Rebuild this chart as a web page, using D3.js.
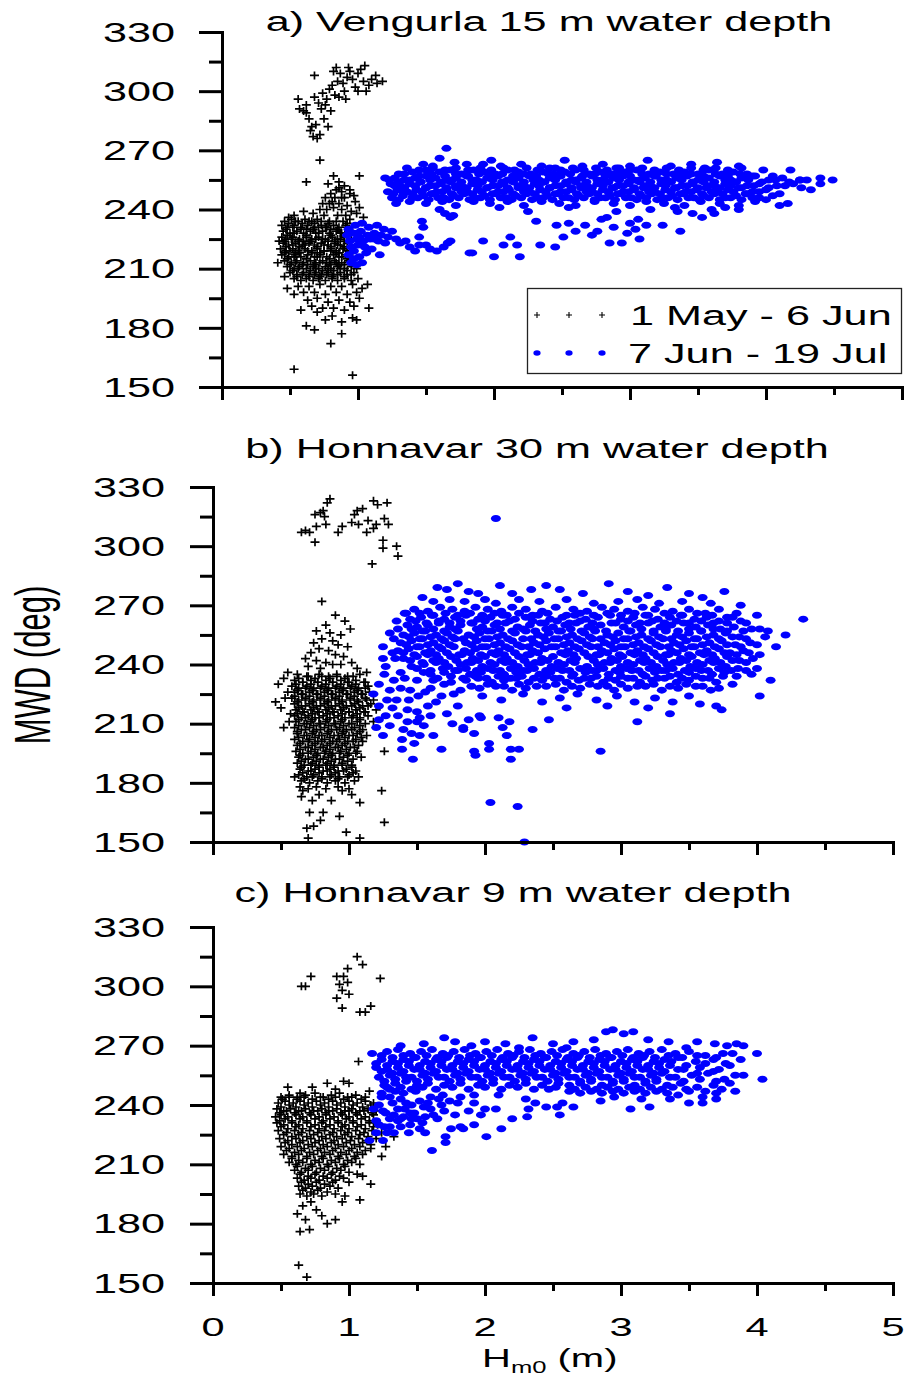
<!DOCTYPE html>
<html>
<head>
<meta charset="utf-8">
<script src="https://cdn.jsdelivr.net/npm/d3@7"></script>
<style>
  body { margin: 0; background: #fff; }
  svg { display: block; }
</style>
</head>
<body>
<svg id="chart" width="907" height="1380"></svg>
<script>
// ---- tick values and labels ----
const yTickValues = [150, 180, 210, 240, 270, 300, 330];
const yMinorTicks = [165, 195, 225, 255, 285, 315];
const xTickValues = [0, 1, 2, 3, 4, 5];
const xMinorTicks = [0.5, 1.5, 2.5, 3.5, 4.5];
const panelTitles = [
  "a) Vengurla 15 m water depth",
  "b) Honnavar 30 m water depth",
  "c) Honnavar 9 m water depth"
];
const seriesLabels = ["1 May - 6 Jun", "7 Jun - 19 Jul"];
const yAxisTitle = "MWD (deg)";

// ---- observations: flat lists of Hm0 (m), MWD (deg) pairs ----
// a) Vengurla, 1 May - 6 Jun
const vengurlaEarly = [
  0.56,296, 0.57,291, 0.6,290, 0.62,289, 0.64,286, 0.66,282, 0.65,280, 0.67,277, 0.69,283, 0.7,276,
  0.72,278, 0.75,286, 0.78,282, 0.73,291, 0.71,294, 0.68,297, 0.74,299, 0.77,296, 0.79,301, 0.81,303,
  0.83,298, 0.85,305, 0.87,309, 0.89,304, 0.9,300, 0.92,307, 0.94,310, 0.96,306, 0.98,302, 1.0,309,
  1.02,311, 1.04,305, 1.06,300, 1.08,303, 1.1,306, 1.13,308, 1.14,304, 1.05,313, 0.68,308, 0.82,310,
  0.86,297, 0.76,293, 0.8,290, 0.91,296, 1.0,300, 0.84,312, 0.93,312, 1.18,305, 0.62,293, 0.72,265,
  0.62,254,
  0.82,257, 1.01,257, 0.78,253, 0.86,254, 0.9,252, 0.84,250, 0.8,248, 0.88,249, 0.94,250, 0.76,246,
  0.83,246, 0.9,246, 0.97,247, 0.74,243, 0.79,243, 0.86,243, 0.92,242, 0.98,244, 0.72,240, 0.77,240,
  0.82,241, 0.88,240, 0.95,239, 1.01,241, 0.67,238, 0.75,237, 0.85,237, 0.91,237, 0.99,238, 0.6,239,
  0.53,237, 0.49,236, 1.04,236, 0.81,244, 0.88,246, 0.94,248, 0.86,251,
  0.46,234, 0.51,235, 0.56,234, 0.61,235, 0.66,234, 0.7,235, 0.79,234, 0.89,234, 0.94,235,
  0.44,232, 0.48,231, 0.53,232, 0.58,231, 0.63,232, 0.68,231, 0.73,232, 0.77,231, 0.82,232, 0.86,231, 0.91,232, 0.96,231,
  0.45,229, 0.5,228, 0.55,229, 0.6,228, 0.65,229, 0.69,228, 0.74,229, 0.79,228, 0.84,229, 0.88,228, 0.93,229,
  0.44,226, 0.47,225, 0.52,226, 0.57,225, 0.62,226, 0.66,225, 0.71,226, 0.76,225, 0.81,226, 0.85,225, 0.9,226, 0.95,225,
  0.45,223, 0.49,222, 0.54,223, 0.59,222, 0.64,223, 0.68,222, 0.73,223, 0.78,222, 0.83,223, 0.87,222, 0.92,223,
  0.43,220, 0.47,219, 0.52,220, 0.56,219, 0.61,220, 0.66,219, 0.7,220, 0.75,219, 0.8,220, 0.84,219, 0.89,220, 0.94,219,
  0.44,217, 0.49,216, 0.54,217, 0.58,216, 0.63,217, 0.68,216, 0.72,217, 0.77,216, 0.82,217, 0.86,216, 0.91,217, 0.96,216,
  0.46,214, 0.51,213, 0.55,214, 0.6,213, 0.65,214, 0.69,213, 0.74,214, 0.79,213, 0.83,214, 0.88,213, 0.93,214,
  0.48,211, 0.53,210, 0.57,211, 0.62,210, 0.67,211, 0.71,210, 0.76,211, 0.8,210, 0.85,211, 0.9,210, 0.95,211, 0.99,210,
  0.5,208, 0.55,207, 0.6,208, 0.64,207, 0.69,208, 0.73,207, 0.78,208, 0.82,207, 0.87,208, 0.92,207, 0.97,208,
  0.53,205, 0.58,204, 0.62,205, 0.67,204, 0.71,205, 0.76,204, 0.81,205, 0.85,204, 0.9,205, 0.95,204, 1.0,205,
  0.58,230, 0.67,230, 0.76,231, 0.85,230, 0.56,224, 0.65,224, 0.74,225, 0.83,224,
  0.57,218, 0.66,218, 0.75,219, 0.84,218, 0.59,212, 0.68,212, 0.77,213, 0.86,212,
  0.49,233, 0.54,234, 0.59,233, 0.64,234, 0.68,233, 0.73,234, 0.78,233, 0.84,234, 0.92,233,
  0.47,230, 0.52,231, 0.62,230, 0.71,231, 0.8,230, 0.91,231,
  0.48,227, 0.53,228, 0.62,227, 0.71,228, 0.8,227, 0.87,228, 0.92,227,
  0.46,224, 0.51,225, 0.6,224, 0.69,225, 0.78,224, 0.87,225, 0.9,224,
  0.47,221, 0.52,222, 0.57,221, 0.61,222, 0.7,221, 0.75,222, 0.8,221, 0.85,222, 0.9,221,
  0.46,218, 0.5,219, 0.54,218, 0.63,219, 0.72,218, 0.8,219, 0.86,218, 0.92,219,
  0.48,215, 0.53,216, 0.62,215, 0.7,216, 0.79,215, 0.88,216, 0.92,215,
  0.5,212, 0.54,213, 0.63,212, 0.72,213, 0.8,212, 0.84,213, 0.9,212, 0.95,213,
  0.52,209, 0.56,210, 0.65,209, 0.69,210, 0.74,209, 0.78,210, 0.82,209, 0.87,210, 0.92,209,
  0.55,206, 0.59,207, 0.64,206, 0.68,207, 0.72,206, 0.77,207, 0.81,206, 0.85,207, 0.9,206, 0.95,207,
  0.48,200, 0.56,201, 0.64,201, 0.72,202, 0.8,201, 0.88,201, 0.96,202, 1.07,202, 1.03,200, 0.53,197,
  0.6,198, 0.68,198, 0.76,197, 0.84,198, 0.92,197, 0.99,198, 0.63,194, 0.7,195, 0.78,193, 0.86,194,
  0.94,193, 1.01,195, 0.58,189, 0.66,191, 0.74,190, 0.82,190, 0.9,189, 0.97,191, 0.7,188, 0.81,186,
  0.96,185, 0.76,184, 0.88,183, 0.68,179, 0.88,177, 0.8,172, 0.53,159, 0.96,156, 0.99,184, 0.62,181,
  1.08,190, 0.46,206, 0.42,224, 0.41,213
];

// a) Vengurla, 7 Jun - 19 Jul
const vengurlaLate = [
  0.93,230, 0.98,232, 1.03,233, 1.08,231, 1.14,232, 1.19,230, 0.92,227, 0.97,228, 1.02,229, 1.07,227,
  1.12,228, 1.17,227, 1.22,226, 0.94,224, 0.99,225, 1.04,224, 1.09,225, 1.15,224, 1.2,223, 0.95,221,
  1.0,222, 1.05,221, 1.1,220, 0.93,217, 0.97,215, 1.01,216, 0.95,213, 0.99,212, 1.03,213, 1.16,217,
  1.25,229, 1.28,225, 1.31,223, 1.35,224, 1.38,221, 1.42,219, 1.45,222, 1.5,222, 1.53,220, 1.58,219,
  1.63,221, 1.66,223, 1.45,226, 1.48,231, 1.47,234, 1.64,238, 1.68,236, 1.7,237, 1.82,218, 1.92,224,
  1.84,218, 2.0,216, 2.07,222, 2.12,226, 2.17,222, 2.19,216, 2.31,234, 2.34,222, 2.45,221, 2.46,232,
  2.51,226, 2.67,232, 2.72,227, 2.76,229, 2.79,235, 2.83,236, 2.85,223, 2.94,223, 3.0,233, 3.04,230,
  3.06,235, 3.07,225, 3.24,232, 3.37,229, 3.46,238, 3.53,236, 3.62,238, 1.68,224, 1.6,240, 2.04,241,
  2.25,239, 2.9,239, 3.15,240, 3.35,239, 3.7,241, 3.8,240, 4.16,243, 2.55,233, 2.6,229, 2.88,231,
  2.98,228, 3.12,232, 0.97,219, 1.06,218, 1.01,226, 1.12,225,
  1.48,263, 1.6,266, 1.71,264, 1.55,262, 1.8,263, 1.98,265, 2.05,262, 2.2,263, 2.35,262, 2.52,265,
  2.65,262, 2.8,263, 3.0,262, 3.13,265, 3.3,262, 3.45,263, 3.64,264, 3.8,262, 3.98,260, 4.18,260,
  1.65,271, 1.92,263, 2.45,261, 2.9,261, 3.55,261,
  1.3,258, 1.4,259, 1.5,260, 1.6,259, 1.68,260, 1.76,258, 1.85,260, 1.93,259, 2.01,258, 2.1,260,
  2.18,259, 2.27,258, 2.36,259, 2.44,258, 2.52,259, 2.6,260, 2.7,258, 2.78,259, 2.87,258, 2.96,259,
  3.05,260, 3.14,258, 3.22,259, 3.32,258, 3.4,259, 3.5,258, 3.58,260, 3.68,258, 3.76,259, 3.86,258,
  4.05,257, 4.25,255,
  1.2,256, 1.27,256, 1.34,255, 1.42,256, 1.5,257, 1.57,256, 1.65,255, 1.72,256, 1.8,257, 1.87,255,
  1.95,256, 2.03,257, 2.1,255, 2.18,256, 2.26,257, 2.33,255, 2.41,256, 2.49,257, 2.57,255, 2.64,256,
  2.72,257, 2.8,255, 2.88,256, 2.95,257, 3.03,255, 3.11,256, 3.19,257, 3.27,255, 3.34,256, 3.42,257,
  3.5,255, 3.58,256, 3.66,257, 3.74,255, 3.82,256, 3.92,257, 4.02,255, 4.12,256, 4.25,255, 4.4,256,
  4.49,255,
  1.24,253, 1.31,252, 1.38,253, 1.46,254, 1.53,252, 1.61,253, 1.68,254, 1.76,252, 1.84,253, 1.91,254,
  1.99,252, 2.07,253, 2.14,254, 2.22,252, 2.3,253, 2.37,254, 2.45,252, 2.53,253, 2.6,254, 2.68,252,
  2.76,253, 2.84,254, 2.91,252, 2.99,253, 3.07,254, 3.15,252, 3.23,253, 3.3,254, 3.38,252, 3.46,253,
  3.54,254, 3.62,252, 3.7,253, 3.78,254, 3.86,252, 3.95,253, 4.08,252, 4.2,253, 4.33,250, 4.4,253,
  1.22,249, 1.29,250, 1.36,249, 1.43,250, 1.5,251, 1.58,249, 1.65,250, 1.72,251, 1.8,249, 1.88,250,
  1.95,251, 2.03,249, 2.11,250, 2.18,251, 2.26,249, 2.34,250, 2.41,251, 2.49,249, 2.57,250, 2.64,251,
  2.72,249, 2.8,250, 2.87,251, 2.95,249, 3.03,250, 3.1,251, 3.18,249, 3.26,250, 3.33,251, 3.41,249,
  3.49,250, 3.56,251, 3.64,249, 3.72,250, 3.8,251, 3.9,249, 4.0,250, 4.1,248,
  1.25,246, 1.33,247, 1.4,246, 1.48,247, 1.55,248, 1.63,246, 1.7,247, 1.78,248, 1.86,246, 1.93,247,
  2.01,248, 2.09,246, 2.16,247, 2.24,248, 2.32,246, 2.39,247, 2.47,248, 2.55,246, 2.62,247, 2.7,248,
  2.78,246, 2.85,247, 2.93,248, 3.01,246, 3.08,247, 3.16,248, 3.24,246, 3.31,247, 3.39,248, 3.47,246,
  3.54,247, 3.62,248, 3.7,246, 3.78,247, 3.86,248, 3.95,246, 4.05,247,
  1.28,243, 1.38,244, 1.5,243, 1.62,244, 1.72,242, 1.85,244, 1.97,243, 2.1,244, 2.22,242, 2.35,244,
  2.48,243, 2.6,242, 2.74,244, 2.88,243, 3.0,242, 3.12,244, 3.25,243, 3.4,242, 3.52,244, 3.66,243,
  3.8,242, 3.92,244, 4.1,242, 2.55,241, 3.33,241, 3.6,240,
  1.36,261, 1.45,260, 1.55,261, 1.64,260, 1.72,261, 1.81,260, 1.9,261, 1.98,260, 2.07,261, 2.15,260,
  2.24,261, 2.32,260, 2.41,261, 2.49,260, 2.58,261, 2.66,260, 2.75,261, 2.83,260, 2.92,261, 3.0,260,
  3.09,261, 3.18,260, 3.27,261, 3.36,260, 3.45,261, 3.54,260, 3.63,261, 3.72,260, 3.82,261,
  1.34,258, 1.45,257, 1.54,258, 1.64,257, 1.72,258, 1.81,257, 1.89,258, 1.97,257, 2.06,258, 2.14,257,
  2.22,258, 2.31,257, 2.4,258, 2.48,257, 2.56,258, 2.65,257, 2.74,258, 2.82,257, 2.91,258, 3.0,257,
  3.09,258, 3.18,257, 3.27,258, 3.36,257, 3.45,258, 3.54,257, 3.63,258, 3.72,257, 3.81,258, 3.9,257,
  1.23,255, 1.3,254, 1.38,255, 1.46,254, 1.53,255, 1.61,254, 1.69,255, 1.76,254, 1.84,255, 1.91,254,
  1.99,255, 2.06,254, 2.14,255, 2.22,254, 2.29,255, 2.37,254, 2.45,255, 2.53,254, 2.6,255, 2.68,254,
  2.76,255, 2.84,254, 2.92,255, 2.99,254, 3.07,255, 3.15,254, 3.23,255, 3.3,254, 3.38,255, 3.46,254,
  3.54,255, 3.62,254, 3.7,255, 3.78,254, 3.87,255, 3.97,254, 4.07,255, 4.17,254, 4.3,255,
  1.27,252, 1.34,251, 1.42,252, 1.5,251, 1.57,252, 1.65,251, 1.72,252, 1.8,251, 1.88,252, 1.95,251,
  2.03,252, 2.1,251, 2.18,252, 2.26,251, 2.33,252, 2.41,251, 2.49,252, 2.57,251, 2.64,252, 2.72,251,
  2.8,252, 2.88,251, 2.95,252, 3.03,251, 3.11,252, 3.18,251, 3.26,252, 3.34,251, 3.42,252, 3.5,251,
  3.58,252, 3.66,251, 3.74,252, 3.82,251, 3.91,252, 4.02,251, 4.14,252, 4.26,251,
  1.26,248, 1.33,249, 1.4,248, 1.47,249, 1.54,248, 1.62,249, 1.69,248, 1.76,249, 1.84,248, 1.91,249,
  1.99,248, 2.07,249, 2.14,248, 2.22,249, 2.3,248, 2.38,249, 2.45,248, 2.53,249, 2.61,248, 2.68,249,
  2.76,248, 2.84,249, 2.91,248, 2.99,249, 3.07,248, 3.14,249, 3.22,248, 3.3,249, 3.37,248, 3.45,249,
  3.53,248, 3.6,249, 3.68,248, 3.76,249, 3.85,248, 3.95,249,
  1.3,245, 1.44,246, 1.52,245, 1.59,246, 1.67,245, 1.74,246, 1.82,245, 1.9,246, 1.97,245, 2.05,246,
  2.13,245, 2.2,246, 2.28,245, 2.36,246, 2.43,245, 2.51,246, 2.59,245, 2.66,246, 2.74,245, 2.82,246,
  2.89,245, 2.97,246, 3.05,245, 3.12,246, 3.2,245, 3.28,246, 3.35,245, 3.43,246, 3.51,245, 3.58,246,
  3.66,245, 3.74,246, 3.82,245, 3.9,246, 4.0,245
];

// b) Honnavar 30 m, 1 May - 6 Jun
const honnavar30Early = [
  0.65,307, 0.71,307, 0.75,302, 0.81,318, 0.82,315, 0.75,316, 0.86,324, 0.76,310, 0.83,311, 0.92,307,
  0.95,310, 1.02,312, 1.04,316, 1.06,318, 1.1,319, 1.18,323, 1.21,321, 1.28,322, 1.13,307, 1.18,309,
  1.2,311, 1.26,314, 1.29,311, 1.25,303, 1.25,299, 1.35,300, 1.36,295, 1.17,291, 1.07,311, 1.14,313,
  0.79,317, 0.84,322, 0.68,308,
  0.8,272, 0.9,265, 0.83,260, 0.97,262, 0.76,257, 0.86,256, 0.94,255, 0.8,253, 0.88,252, 0.74,251,
  0.92,250, 0.99,249, 0.78,248, 0.85,247, 0.72,246, 0.9,245, 0.96,244, 0.68,243, 0.76,242, 0.83,241,
  0.88,240, 0.94,240, 1.02,241, 0.7,239, 0.79,238, 1.06,238, 1.13,236, 0.55,236, 1.01,258,
  0.46,221, 0.48,230, 0.52,233, 0.53,223, 0.52,208, 0.57,215, 0.5,218, 0.55,226, 0.56,211,
  0.62,235, 0.7,234, 0.78,235, 0.85,234, 0.91,235, 0.99,234, 1.08,235,
  0.6,232, 0.66,231, 0.72,232, 0.77,231, 0.83,232, 0.88,231, 0.94,232, 1.0,231, 1.05,232, 1.12,231,
  0.58,229, 0.63,228, 0.69,229, 0.74,228, 0.8,229, 0.85,228, 0.91,229, 0.96,228, 1.02,229, 1.07,228, 1.14,229,
  0.6,226, 0.65,225, 0.71,226, 0.76,225, 0.82,226, 0.87,225, 0.93,226, 0.98,225, 1.04,226, 1.09,225, 1.15,226,
  0.58,223, 0.63,222, 0.68,223, 0.74,222, 0.79,223, 0.85,222, 0.9,223, 0.95,222, 1.01,223, 1.06,222, 1.12,223, 1.18,222,
  0.6,220, 0.65,219, 0.71,220, 0.76,219, 0.82,220, 0.87,219, 0.93,220, 0.98,219, 1.04,220, 1.1,219, 1.16,220,
  0.61,217, 0.66,216, 0.72,217, 0.77,216, 0.83,217, 0.88,216, 0.94,217, 1.0,216, 1.05,217, 1.11,216, 1.2,217,
  0.6,214, 0.65,213, 0.7,214, 0.75,213, 0.81,214, 0.86,213, 0.92,214, 0.97,213, 1.03,214, 1.08,213, 1.14,214,
  0.61,211, 0.67,210, 0.72,211, 0.78,210, 0.83,211, 0.89,210, 0.94,211, 1.0,210, 1.06,211, 1.12,210, 1.18,211,
  0.6,208, 0.65,207, 0.71,208, 0.76,207, 0.82,208, 0.87,207, 0.93,208, 0.98,207, 1.04,208, 1.1,207,
  0.62,205, 0.67,204, 0.73,205, 0.78,204, 0.84,205, 0.89,204, 0.95,205, 1.0,204, 1.06,205, 1.13,204,
  0.6,202, 0.66,201, 0.71,202, 0.77,201, 0.82,202, 0.88,201, 0.93,202, 0.99,201, 1.05,202, 1.1,201,
  0.62,199, 0.68,198, 0.73,199, 0.79,198, 0.84,199, 0.9,198, 0.95,199, 1.01,198, 1.07,199,
  0.61,196, 0.66,195, 0.72,196, 0.77,195, 0.83,196, 0.88,195, 0.94,196, 1.0,195, 1.06,196,
  0.63,193, 0.68,192, 0.74,193, 0.79,192, 0.85,193, 0.9,192, 0.96,193, 1.03,192, 1.09,193,
  0.62,190, 0.67,189, 0.73,190, 0.78,189, 0.84,190, 0.89,189, 0.95,190, 1.02,189,
  0.64,187, 0.7,186, 0.75,187, 0.81,186, 0.86,187, 0.92,186, 0.98,187, 1.05,186,
  0.63,184, 0.69,183, 0.74,184, 0.8,183, 0.87,184, 0.93,183, 1.0,184, 1.07,183,
  0.65,181, 0.71,180, 0.77,181, 0.84,180, 0.9,181, 0.97,180, 1.04,181,
  0.64,178, 0.7,177, 0.76,178, 0.83,177, 0.92,178, 1.0,177,
  0.63,233, 0.69,234, 0.75,233, 0.8,234, 0.86,233, 0.91,234, 0.97,233, 1.03,234,
  0.61,230, 0.66,231, 0.72,230, 0.77,231, 0.83,230, 0.88,231, 0.94,230, 0.99,231, 1.05,230, 1.11,231,
  0.62,227, 0.68,228, 0.73,227, 0.79,228, 0.84,227, 0.9,228, 0.95,227, 1.01,228, 1.06,227, 1.12,228,
  0.6,224, 0.66,225, 0.71,224, 0.77,225, 0.82,224, 0.88,225, 0.93,224, 0.99,225, 1.04,224, 1.1,225,
  0.62,221, 0.68,222, 0.73,221, 0.79,222, 0.84,221, 0.9,222, 0.95,221, 1.01,222, 1.07,221, 1.13,222,
  0.63,218, 0.68,219, 0.74,218, 0.79,219, 0.85,218, 0.9,219, 0.96,218, 1.02,219, 1.08,218, 1.14,219,
  0.62,215, 0.67,216, 0.73,215, 0.78,216, 0.84,215, 0.89,216, 0.95,215, 1.0,216, 1.06,215, 1.12,216,
  0.63,212, 0.68,213, 0.73,212, 0.78,213, 0.84,212, 0.89,213, 0.95,212, 1.02,213, 1.08,212,
  0.63,209, 0.69,210, 0.74,209, 0.79,210, 0.85,209, 0.9,210, 0.96,209, 1.02,210, 1.08,209,
  0.62,206, 0.68,207, 0.74,206, 0.79,207, 0.85,206, 0.91,207, 0.96,206, 1.02,207, 1.08,206,
  0.63,203, 0.69,204, 0.75,203, 0.8,204, 0.86,203, 0.92,204, 0.97,203, 1.03,204, 1.09,203,
  0.64,200, 0.7,201, 0.75,200, 0.8,201, 0.86,200, 0.91,201, 0.97,200, 1.03,201,
  0.64,197, 0.7,198, 0.75,197, 0.81,198, 0.86,197, 0.92,198, 0.98,197, 1.04,198,
  0.64,194, 0.7,195, 0.76,194, 0.82,195, 0.87,194, 0.93,195, 0.99,194, 1.05,195,
  0.65,191, 0.7,192, 0.76,191, 0.81,192, 0.87,191, 0.93,192, 0.99,191,
  0.65,188, 0.72,189, 0.78,188, 0.83,189, 0.89,188, 0.95,189, 1.02,188,
  0.66,185, 0.72,186, 0.78,185, 0.84,186, 0.9,185, 0.96,186, 1.03,185,
  0.67,182, 0.73,183, 0.8,182, 0.86,183, 0.92,182, 0.99,183,
  0.65,173, 0.73,171, 0.87,171, 0.71,165, 0.81,165, 0.93,163, 0.79,161, 0.69,157, 0.74,158, 0.7,152,
  0.98,155, 1.08,152, 1.26,160, 1.24,176, 1.08,170, 1.26,196, 0.66,176, 0.95,176, 0.78,174, 1.02,174,
  0.6,183
];

// b) Honnavar 30 m, 7 Jun - 19 Jul
const honnavar30Late = [
  1.65,279, 1.72,278, 1.8,281, 1.88,277, 1.95,276, 2.11,280, 2.34,278, 2.45,280, 2.55,278, 2.72,276,
  2.91,281, 3.05,277, 3.34,279, 3.5,276, 3.76,277, 2.2,276, 3.2,275, 3.6,274,
  1.54,274, 1.62,272, 1.74,273, 1.85,272, 2.0,273, 2.08,271, 2.25,273, 2.4,272, 2.6,273, 2.8,271,
  2.98,272, 3.12,273, 3.28,271, 3.45,272, 3.66,271, 3.88,270, 1.42,266,
  1.48,268, 1.58,267, 1.67,269, 1.76,268, 1.85,267, 1.93,269, 2.02,268, 2.12,267, 2.2,269, 2.3,268,
  2.42,267, 2.52,269, 2.65,268, 2.75,267, 2.86,269, 2.95,268, 3.05,267, 3.16,269, 3.25,268, 3.38,267,
  3.5,268, 3.62,266, 3.72,268, 3.85,266, 4.0,265,
  1.45,263, 1.53,264, 1.61,265, 1.7,263, 1.78,264, 1.86,265, 1.95,263, 2.04,264, 2.13,265, 2.22,263,
  2.3,264, 2.39,265, 2.48,263, 2.57,264, 2.66,265, 2.74,263, 2.83,264, 2.92,265, 3.0,263, 3.09,264,
  3.18,265, 3.27,263, 3.36,264, 3.45,265, 3.54,263, 3.63,264, 3.72,262, 3.82,264, 3.92,261, 4.34,263,
  1.43,260, 1.5,259, 1.58,260, 1.66,261, 1.74,259, 1.82,260, 1.9,261, 1.98,259, 2.07,260, 2.15,261,
  2.24,259, 2.33,260, 2.41,261, 2.5,259, 2.59,260, 2.67,261, 2.76,259, 2.85,260, 2.93,261, 3.02,259,
  3.11,260, 3.2,261, 3.29,259, 3.37,260, 3.46,261, 3.55,259, 3.64,260, 3.73,258, 3.83,259, 3.96,258,
  4.08,257,
  1.4,255, 1.48,256, 1.56,257, 1.64,255, 1.72,256, 1.8,257, 1.88,255, 1.96,256, 2.05,257, 2.13,255,
  2.22,256, 2.3,257, 2.39,255, 2.47,256, 2.56,257, 2.64,255, 2.73,256, 2.81,257, 2.9,255, 2.98,256,
  3.07,257, 3.15,255, 3.24,256, 3.33,257, 3.41,255, 3.5,256, 3.59,257, 3.68,255, 3.77,256, 3.87,254,
  4.21,255,
  1.38,251, 1.46,252, 1.54,253, 1.62,251, 1.7,252, 1.78,253, 1.86,251, 1.94,252, 2.03,253, 2.11,251,
  2.2,252, 2.28,253, 2.36,251, 2.45,252, 2.54,253, 2.62,251, 2.71,252, 2.79,253, 2.88,251, 2.96,252,
  3.05,253, 3.13,251, 3.22,252, 3.31,253, 3.39,251, 3.48,252, 3.56,253, 3.65,251, 3.74,252, 3.84,250,
  3.95,251, 4.14,249,
  1.36,247, 1.44,248, 1.52,249, 1.6,247, 1.68,248, 1.77,249, 1.85,247, 1.93,248, 2.01,249, 2.1,247,
  2.18,248, 2.27,249, 2.35,247, 2.44,248, 2.52,249, 2.61,247, 2.69,248, 2.78,249, 2.86,247, 2.95,248,
  3.03,249, 3.12,247, 3.2,248, 3.29,249, 3.37,247, 3.46,248, 3.54,249, 3.63,247, 3.72,248, 3.8,246,
  3.9,247, 4.02,245,
  1.4,243, 1.5,244, 1.58,245, 1.66,243, 1.75,244, 1.83,245, 1.91,243, 2.0,244, 2.08,245, 2.16,243,
  2.25,244, 2.33,245, 2.42,243, 2.5,244, 2.59,245, 2.67,243, 2.76,244, 2.84,245, 2.93,243, 3.01,244,
  3.1,245, 3.18,243, 3.27,244, 3.35,245, 3.44,243, 3.52,244, 3.61,245, 3.69,243, 3.78,244, 3.87,242,
  3.97,243,
  1.46,239, 1.55,240, 1.64,241, 1.73,239, 1.82,240, 1.9,241, 1.98,239, 2.07,240, 2.15,241, 2.24,239,
  2.32,240, 2.41,241, 2.49,239, 2.58,240, 2.66,241, 2.75,239, 2.83,240, 2.92,241, 3.0,239, 3.09,240,
  3.17,241, 3.26,239, 3.34,240, 3.43,241, 3.51,239, 3.6,240, 3.68,241, 3.77,239, 3.86,238, 4.0,238,
  1.6,235, 1.7,236, 1.8,237, 1.89,235, 1.97,236, 2.06,237, 2.14,235, 2.23,236, 2.31,237, 2.4,235,
  2.48,236, 2.57,237, 2.65,235, 2.74,236, 2.82,237, 2.91,235, 2.99,236, 3.08,237, 3.16,235, 3.25,236,
  3.33,237, 3.42,235, 3.5,236, 3.59,237, 3.67,235, 3.76,236, 3.85,234, 3.96,235,
  1.75,231, 1.86,232, 1.95,233, 2.05,231, 2.14,232, 2.23,233, 2.32,231, 2.42,232, 2.51,233, 2.6,231,
  2.69,232, 2.78,233, 2.87,231, 2.96,232, 3.05,233, 3.14,231, 3.23,232, 3.32,233, 3.41,231, 3.5,232,
  3.6,233, 3.7,231, 3.82,230, 4.1,232,
  1.82,227, 1.96,228, 2.08,229, 2.2,227, 2.3,228, 2.45,229, 2.58,227, 2.7,228, 2.83,229, 2.95,227,
  3.05,228, 3.18,229, 3.3,227, 3.42,228, 3.55,229, 3.66,227, 4.02,224,
  1.98,224, 2.12,222, 2.28,225, 2.42,221, 2.55,223, 2.68,225, 2.82,222, 2.97,224, 3.1,221, 3.25,223,
  3.38,221, 3.5,224, 3.74,217, 3.36,215, 3.12,211, 2.85,196, 2.47,212, 2.6,218, 2.9,219, 3.2,218,
  3.58,220, 3.7,219,
  1.25,249, 1.34,243, 1.25,243, 1.35,262, 1.33,253, 1.41,266, 1.26,235, 1.18,225, 1.33,232, 1.41,233,
  1.5,232, 1.35,222, 1.43,217, 1.36,214, 1.43,211, 1.5,211, 1.39,202, 1.48,200, 1.52,204, 1.39,197,
  1.68,197, 1.25,204, 1.27,214, 1.58,219, 1.68,224, 1.77,225, 1.84,207, 1.92,205, 1.92,196, 2.03,200,
  2.16,204, 2.19,197, 2.19,192, 2.25,197, 2.13,208, 1.97,213, 2.1,213, 2.18,211, 2.35,207, 1.52,213,
  1.51,224, 1.47,192, 2.04,170, 2.24,168, 2.29,150, 2.08,314, 1.93,194, 2.03,197, 1.84,208, 1.96,214,
  1.22,219, 1.3,227, 1.45,227, 1.6,228, 1.7,230, 1.55,236, 1.62,232,
  1.22,230, 1.28,222, 1.3,209, 1.32,218, 1.38,228, 1.4,207, 1.44,222, 1.46,205, 1.5,216, 1.55,209,
  1.56,226, 1.6,214, 1.62,204, 1.64,221, 1.72,215, 1.76,210, 1.8,219, 1.88,212, 1.27,239, 1.32,246,
  1.38,236, 1.3,256, 1.36,258, 1.22,212, 1.2,208,
  1.52,266, 1.62,265, 1.71,266, 1.8,265, 1.89,266, 1.98,265, 2.07,266, 2.16,265, 2.25,266, 2.35,265,
  2.46,266, 2.6,265, 2.7,266, 2.8,265, 2.9,266, 3.0,265, 3.1,266, 3.2,265, 3.32,266, 3.44,265,
  3.56,266, 3.67,265, 3.78,264,
  1.49,262, 1.57,261, 1.66,262, 1.74,261, 1.82,262, 1.91,261, 2.0,262, 2.09,261, 2.18,262, 2.35,262,
  2.44,261, 2.53,262, 2.62,261, 2.7,262, 2.79,261, 2.96,261, 3.05,262, 3.14,261, 3.23,262, 3.32,261,
  3.41,262, 3.5,261, 3.59,262, 3.68,261, 3.78,261, 3.88,262,
  1.46,258, 1.54,257, 1.62,258, 1.7,257, 1.78,258, 1.94,258, 2.02,257, 2.11,258, 2.2,257, 2.28,258,
  2.37,257, 2.45,258, 2.54,257, 2.63,258, 2.71,257, 2.8,258, 2.89,257, 3.06,257, 3.15,258, 3.24,257,
  3.33,258, 3.42,257, 3.5,258, 3.59,257, 3.68,258, 3.78,257, 3.9,257, 4.02,258,
  1.44,254, 1.52,253, 1.6,254, 1.68,253, 1.76,254, 1.84,253, 1.92,254, 2.0,253, 2.09,254, 2.17,253,
  2.34,253, 2.43,254, 2.51,253, 2.6,254, 2.68,253, 2.77,254, 2.85,253, 2.94,254, 3.02,253, 3.11,254,
  3.2,253, 3.28,254, 3.37,253, 3.45,254, 3.54,253, 3.63,254, 3.72,253, 3.82,254, 3.92,253, 4.06,254,
  1.42,250, 1.5,249, 1.58,250, 1.66,249, 1.74,250, 1.9,250, 1.98,249, 2.07,250, 2.15,249, 2.24,250,
  2.32,249, 2.4,250, 2.49,249, 2.58,250, 2.66,249, 2.75,250, 2.83,249, 2.92,250, 3.0,249, 3.09,250,
  3.17,249, 3.26,250, 3.35,249, 3.43,250, 3.52,249, 3.6,250, 3.69,249, 3.78,250, 3.88,249, 4.0,250,
  1.4,246, 1.48,245, 1.56,246, 1.64,245, 1.72,246, 1.81,245, 1.89,246, 1.97,245, 2.05,246, 2.14,245,
  2.22,246, 2.31,245, 2.39,246, 2.56,246, 2.65,245, 2.73,246, 2.82,245, 2.9,246, 2.99,245, 3.07,246,
  3.16,245, 3.24,246, 3.33,245, 3.41,246, 3.5,245, 3.58,246, 3.67,245, 3.76,246, 3.85,245, 3.94,246,
  1.45,242, 1.54,241, 1.62,242, 1.7,241, 1.79,242, 1.87,241, 1.95,242, 2.04,241, 2.12,242, 2.2,241,
  2.29,242, 2.37,241, 2.46,242, 2.54,241, 2.63,242, 2.8,242, 2.88,241, 2.97,242, 3.05,241, 3.14,242,
  3.22,241, 3.31,242, 3.39,241, 3.48,242, 3.56,241, 3.65,242, 3.73,241, 3.82,242, 3.92,241,
  1.5,238, 1.6,237, 1.69,238, 1.78,237, 1.86,238, 1.94,237, 2.02,238, 2.11,237, 2.19,238, 2.28,237,
  2.36,238, 2.45,237, 2.53,238, 2.62,237, 2.7,238, 2.79,237, 2.87,238, 2.96,237, 3.04,238, 3.13,237,
  3.21,238, 3.3,237, 3.38,238, 3.47,237, 3.55,238, 3.64,237, 3.72,238, 3.81,237, 3.92,237,
  1.65,233, 1.75,234, 1.84,233, 1.93,234, 2.01,233, 2.1,234, 2.19,233, 2.27,234, 2.36,233, 2.45,234,
  2.55,233, 2.64,234, 2.73,233, 2.82,234, 2.91,233, 3.0,234, 3.09,233, 3.18,234, 3.27,233, 3.36,234,
  3.45,233, 3.55,234, 3.65,233, 3.75,234,
  1.9,229, 2.02,230, 2.14,229, 2.25,230, 2.38,229, 2.52,230, 2.64,229, 2.77,230, 2.9,229, 3.0,230,
  3.12,229, 3.24,230, 3.36,229, 3.48,230, 3.6,229, 3.72,228
];

// c) Honnavar 9 m, 1 May - 6 Jun
const honnavar9Early = [
  0.65,300, 0.68,300, 0.72,305, 0.91,305, 0.96,305, 0.99,309, 1.06,315, 1.1,311, 0.93,301, 0.95,298,
  0.99,302, 1.0,296, 1.23,304, 0.91,294, 0.95,289, 1.08,287, 1.12,287, 1.16,290, 1.07,262,
  0.55,249, 0.73,249, 0.84,251, 0.96,252, 1.0,251, 1.15,247, 0.64,246, 0.9,248,
  0.5,244, 0.56,245, 0.62,244, 0.68,245, 0.75,246, 0.81,244, 0.87,245, 0.93,246, 0.99,244, 1.05,245, 1.12,244,
  0.48,241, 0.53,242, 0.59,241, 0.64,242, 0.7,241, 0.76,242, 0.82,241, 0.88,242, 0.94,241, 1.0,242, 1.06,241, 1.12,242, 1.18,241,
  0.47,238, 0.52,237, 0.57,238, 0.63,237, 0.68,238, 0.74,237, 0.8,238, 0.85,237, 0.91,238, 0.97,237, 1.02,238, 1.08,237, 1.14,238, 1.2,237,
  0.46,234, 0.5,235, 0.55,234, 0.61,235, 0.66,234, 0.72,235, 0.78,234, 0.83,235, 0.89,234, 0.95,235, 1.0,234, 1.06,235, 1.12,234, 1.18,235,
  0.47,231, 0.52,230, 0.58,231, 0.63,230, 0.69,231, 0.75,230, 0.8,231, 0.86,230, 0.92,231, 0.97,230, 1.03,231, 1.09,230, 1.15,231, 1.21,230,
  0.48,227, 0.54,226, 0.6,227, 0.65,226, 0.71,227, 0.77,226, 0.82,227, 0.88,226, 0.94,227, 0.99,226, 1.05,227, 1.11,226, 1.17,227, 1.24,226,
  0.49,223, 0.55,222, 0.61,223, 0.66,222, 0.72,223, 0.78,222, 0.83,223, 0.89,222, 0.95,223, 1.01,222, 1.07,223, 1.13,222, 1.2,223,
  0.5,219, 0.56,218, 0.62,219, 0.67,218, 0.73,219, 0.79,218, 0.84,219, 0.9,218, 0.96,219, 1.02,218, 1.08,219, 1.16,218, 1.27,219,
  0.52,215, 0.58,214, 0.63,215, 0.69,214, 0.74,215, 0.8,214, 0.86,215, 0.92,214, 0.98,215, 1.04,214, 1.1,215, 1.24,214,
  0.56,211, 0.61,210, 0.66,211, 0.72,210, 0.78,211, 0.84,210, 0.9,211, 0.96,210, 1.02,211, 1.08,210,
  0.6,207, 0.65,206, 0.7,207, 0.76,206, 0.82,207, 0.88,206, 0.94,207, 1.0,206, 1.06,205,
  0.62,203, 0.67,202, 0.72,203, 0.78,202, 0.84,203, 0.9,202, 0.96,203, 1.1,204, 1.0,201,
  0.63,199, 0.68,198, 0.73,199, 0.79,198, 0.86,199, 0.92,198, 1.16,200,
  0.64,195, 0.69,194, 0.74,195, 0.8,194, 0.9,195, 0.97,194,
  0.51,243, 0.56,244, 0.62,243, 0.67,244, 0.73,243, 0.79,244, 0.85,243, 0.9,244, 0.96,243, 1.02,244, 1.09,243,
  0.5,239, 0.56,240, 0.61,239, 0.67,240, 0.73,239, 0.79,240, 0.85,239, 0.91,240, 0.97,239, 1.03,240, 1.1,239, 1.16,240,
  0.49,236, 0.54,237, 0.6,236, 0.65,237, 0.71,236, 0.77,237, 0.83,236, 0.88,237, 0.94,236, 1.0,237, 1.05,236, 1.11,237, 1.17,236,
  0.49,232, 0.53,233, 0.58,232, 0.64,233, 0.69,232, 0.75,233, 0.81,232, 0.86,233, 0.92,232, 0.98,233, 1.03,232, 1.09,233, 1.15,232,
  0.5,229, 0.55,228, 0.61,229, 0.66,228, 0.72,229, 0.78,228, 0.83,229, 0.89,228, 0.95,229, 1.0,228, 1.06,229, 1.12,228, 1.18,229,
  0.52,225, 0.58,224, 0.63,225, 0.69,224, 0.74,225, 0.8,224, 0.86,225, 0.91,224, 0.97,225, 1.02,224, 1.08,225, 1.14,224, 1.2,225,
  0.53,221, 0.58,220, 0.64,221, 0.7,220, 0.75,221, 0.81,220, 0.87,221, 0.92,220, 0.98,221, 1.04,220, 1.1,221, 1.16,220,
  0.54,217, 0.6,216, 0.65,217, 0.71,216, 0.77,217, 0.82,216, 0.88,217, 0.94,216, 1.0,217, 1.06,216, 1.12,217,
  0.58,213, 0.63,212, 0.69,213, 0.75,212, 0.81,213, 0.87,212, 0.93,213, 0.99,212, 1.05,213,
  0.62,209, 0.68,208, 0.73,209, 0.79,208, 0.85,209, 0.91,208, 0.97,209,
  0.64,205, 0.7,204, 0.75,205, 0.81,204, 0.87,205, 0.93,204,
  0.65,201, 0.7,200, 0.76,201, 0.82,200, 0.88,201,
  0.66,197, 0.72,196, 0.77,197, 0.84,196,
  0.66,189, 0.72,191, 0.95,191, 1.08,192, 0.62,185, 0.8,184, 0.9,182, 0.64,176, 0.71,177, 0.84,180,
  0.68,182, 0.76,187, 0.63,159, 0.69,153, 1.33,224
];

// c) Honnavar 9 m, 7 Jun - 19 Jul
const honnavar9Late = [
  1.78,272, 1.9,270, 2.0,272, 2.15,271, 2.35,274, 2.5,271, 2.65,272, 2.8,273, 2.89,277, 2.94,278,
  3.02,276, 3.09,277, 3.2,273, 3.35,272, 3.56,272, 3.69,271, 3.78,270, 3.85,271, 3.9,270, 1.55,271,
  1.38,270, 1.7,274, 2.25,269, 3.48,269, 2.6,269,
  1.17,266, 1.28,267, 1.36,268, 1.45,266, 1.53,267, 1.61,268, 1.69,266, 1.77,267, 1.85,268, 1.93,266,
  2.01,267, 2.09,268, 2.17,266, 2.25,267, 2.33,268, 2.41,266, 2.49,267, 2.57,268, 2.65,266, 2.73,267,
  2.81,268, 2.89,266, 2.97,267, 3.05,268, 3.13,266, 3.21,267, 3.3,268, 3.4,266, 3.5,267, 3.62,265,
  3.75,266, 4.0,266,
  1.24,263, 1.32,262, 1.4,263, 1.48,264, 1.56,262, 1.64,263, 1.72,264, 1.8,262, 1.88,263, 1.96,264,
  2.04,262, 2.12,263, 2.2,264, 2.28,262, 2.36,263, 2.44,264, 2.52,262, 2.6,263, 2.68,264, 2.76,262,
  2.84,263, 2.92,264, 3.0,262, 3.08,263, 3.16,264, 3.24,262, 3.32,263, 3.42,264, 3.55,262, 3.68,263,
  3.77,261, 3.88,263,
  1.2,259, 1.28,258, 1.36,259, 1.44,260, 1.52,258, 1.6,259, 1.68,260, 1.76,258, 1.84,259, 1.92,260,
  2.0,258, 2.08,259, 2.16,260, 2.24,258, 2.32,259, 2.4,260, 2.48,258, 2.56,259, 2.64,260, 2.72,258,
  2.8,259, 2.88,260, 2.96,258, 3.04,259, 3.12,260, 3.2,258, 3.28,259, 3.36,260, 3.46,258, 3.58,259,
  3.72,258, 3.9,255, 4.04,253,
  1.22,254, 1.3,255, 1.38,256, 1.46,254, 1.54,255, 1.62,256, 1.7,254, 1.78,255, 1.86,256, 1.94,254,
  2.02,255, 2.1,256, 2.18,254, 2.26,255, 2.34,256, 2.42,254, 2.5,255, 2.58,256, 2.66,254, 2.74,255,
  2.82,256, 2.9,254, 2.98,255, 3.06,256, 3.14,254, 3.22,255, 3.3,256, 3.4,254, 3.52,255, 3.64,256,
  3.76,253,
  1.26,250, 1.34,251, 1.42,252, 1.5,250, 1.58,251, 1.7,250, 1.82,251, 1.95,250, 2.06,251, 2.18,250,
  2.3,251, 2.42,250, 2.54,251, 2.62,250, 2.7,251, 2.78,252, 2.86,250, 2.94,251, 3.02,252, 3.1,250,
  3.18,251, 3.26,252, 3.34,250, 3.44,251, 3.56,249, 3.68,250, 3.8,251,
  1.24,246, 1.34,247, 1.49,247, 1.69,245, 1.92,245, 2.1,245, 2.3,243, 2.47,248, 2.62,247, 2.7,246,
  2.78,247, 2.86,246, 2.94,247, 3.02,246, 3.1,247, 3.18,246, 3.26,247, 3.34,246, 3.42,245, 3.5,247,
  3.6,244, 3.7,246, 3.84,247,
  1.2,232, 1.33,226, 1.38,229, 1.4,234, 1.56,226, 1.61,217, 1.71,224, 1.71,221, 1.82,229, 2.01,224,
  2.12,228, 2.2,233, 2.31,234, 2.32,238, 2.45,239, 2.53,239, 2.55,235, 2.65,239, 1.92,230, 1.84,228,
  1.75,228, 1.97,235, 2.08,238, 1.78,235, 1.8,241, 1.92,241, 2.0,238, 1.82,244, 1.6,238, 1.52,242,
  2.37,241, 2.57,241, 3.21,239, 3.07,238, 3.6,241, 3.36,243, 2.85,242, 2.95,244, 3.15,243, 3.5,241,
  3.7,243,
  1.22,240, 1.27,236, 1.3,244, 1.36,238, 1.42,241, 1.45,236, 1.5,233, 1.55,239, 1.26,229, 1.3,233,
  1.36,232, 1.45,230, 1.52,228, 1.65,233, 1.68,240, 1.6,244, 1.4,246, 1.28,249, 1.18,238, 1.2,226,
  1.15,222, 1.25,222, 1.24,244, 1.32,241, 1.38,243, 1.46,240, 1.25,237, 1.33,235, 1.41,238, 1.48,236,
  1.56,234, 1.22,230, 1.3,229, 1.38,233, 1.46,233, 1.54,231, 1.62,235, 1.7,237, 1.58,241, 1.66,243,
  1.74,242, 1.88,237, 1.28,226, 1.44,226,
  1.24,265, 1.32,264, 1.4,265, 1.49,264, 1.57,265, 1.65,264, 1.73,265, 1.81,264, 1.89,265, 1.97,264,
  2.05,265, 2.13,264, 2.21,265, 2.29,264, 2.37,265, 2.45,264, 2.53,265, 2.61,264, 2.69,265, 2.77,264,
  2.85,265, 2.93,264, 3.01,265, 3.09,264, 3.17,265, 3.25,264, 3.35,265, 3.45,264, 3.56,265, 3.7,264,
  3.82,266,
  1.2,261, 1.28,260, 1.36,261, 1.44,262, 1.52,260, 1.6,261, 1.68,262, 1.76,260, 1.84,261, 1.92,262,
  2.0,260, 2.08,261, 2.16,262, 2.24,260, 2.32,261, 2.4,262, 2.48,260, 2.56,261, 2.64,262, 2.72,260,
  2.8,261, 2.88,262, 2.96,260, 3.04,261, 3.12,262, 3.2,260, 3.28,261, 3.37,262, 3.48,260, 3.62,261,
  3.8,260,
  1.24,257, 1.32,256, 1.4,257, 1.48,258, 1.56,256, 1.64,257, 1.72,258, 1.8,256, 1.88,257, 1.96,258,
  2.04,256, 2.12,257, 2.2,258, 2.28,256, 2.36,257, 2.44,258, 2.52,256, 2.6,257, 2.68,258, 2.76,256,
  2.84,257, 2.92,258, 3.0,256, 3.08,257, 3.16,258, 3.24,256, 3.32,257, 3.42,258, 3.56,256, 3.68,257,
  3.84,255,
  1.26,252, 1.34,253, 1.42,254, 1.5,252, 1.58,253, 1.66,254, 1.74,252, 1.82,253, 1.9,254, 1.98,252,
  2.06,253, 2.14,254, 2.22,252, 2.3,253, 2.38,254, 2.46,252, 2.54,253, 2.62,254, 2.7,252, 2.78,253,
  2.86,254, 2.94,252, 3.02,253, 3.1,254, 3.18,252, 3.26,253, 3.36,254, 3.46,252, 3.58,253, 3.7,252,
  1.3,248, 1.38,249, 1.46,248, 1.54,249, 1.64,248, 1.76,249, 1.88,248, 2.0,249, 2.12,248, 2.24,249,
  2.36,248, 2.52,249, 2.66,248, 2.74,249, 2.82,248, 2.9,249, 2.98,248, 3.06,249, 3.14,248, 3.22,249,
  3.3,248, 3.38,249, 3.48,248, 3.62,247, 3.74,248
];

// ---- drawing ----
const X_STRETCH = 1.6;
const FONT = "'Liberation Sans', Arial, Helvetica, sans-serif";
const BLUE = "#0000ff";

const toPairs = flat => d3.range(0, flat.length, 2).map(i => [flat[i], flat[i + 1]]);

const svg = d3.select("#chart");
svg.append("rect").attr("width", 907).attr("height", 1380).attr("fill", "#fff");

function stretchedText(sel, x, y, str, size, anchor) {
  return sel.append("text")
    .attr("transform", `translate(${x},${y}) scale(${X_STRETCH},1)`)
    .attr("text-anchor", anchor)
    .attr("font-family", FONT)
    .attr("font-size", size)
    .attr("fill", "#000")
    .text(str);
}

const panels = [
  { title: panelTitles[0], early: vengurlaEarly, late: vengurlaLate,
    left: 222, right: 902, top: 32, bottom: 387, titleX: 549, titleY: 31, labelX: 175, xLabels: false, legend: true },
  { title: panelTitles[1], early: honnavar30Early, late: honnavar30Late,
    left: 213, right: 893, top: 487, bottom: 842, titleX: 537, titleY: 458, labelX: 165, xLabels: false, legend: false },
  { title: panelTitles[2], early: honnavar9Early, late: honnavar9Late,
    left: 213, right: 893, top: 927, bottom: 1283, titleX: 513, titleY: 902, labelX: 165, xLabels: true, legend: false }
];

function crossPath(cx, cy, w, h) {
  return `M${cx - w / 2},${cy}h${w}M${cx},${cy - h / 2}v${h}`;
}

function styleAxis(g) {
  g.selectAll("path, line").attr("stroke", "#000").attr("stroke-width", 3);
  g.select(".domain").attr("stroke-linecap", "square");
}

panels.forEach(p => {
  const x = d3.scaleLinear().domain([0, 5]).range([p.left, p.right]);
  const y = d3.scaleLinear().domain([150, 330]).range([p.bottom, p.top]);
  const g = svg.append("g");

  // 1 May - 6 Jun as "+" marks
  g.append("g").selectAll("path")
    .data(toPairs(p.early))
    .join("path")
    .attr("d", d => crossPath(x(d[0]), y(d[1]), 9, 8))
    .attr("fill", "none")
    .attr("stroke", "#000")
    .attr("stroke-width", 1.7);

  // 7 Jun - 19 Jul as filled dots
  g.append("g").selectAll("ellipse")
    .data(toPairs(p.late))
    .join("ellipse")
    .attr("cx", d => x(d[0]))
    .attr("cy", d => y(d[1]))
    .attr("rx", 5)
    .attr("ry", 3.5)
    .attr("fill", BLUE);

  // y axis: major + minor ticks
  g.append("g").attr("transform", `translate(${p.left},0)`)
    .call(d3.axisLeft(y).tickValues(yTickValues).tickSize(23).tickSizeOuter(0).tickFormat(""))
    .call(styleAxis);
  g.append("g").attr("transform", `translate(${p.left},0)`)
    .call(d3.axisLeft(y).tickValues(yMinorTicks).tickSize(13).tickSizeOuter(0).tickFormat(""))
    .call(a => a.select(".domain").remove())
    .call(styleAxis);

  // x axis: major + minor ticks below the line
  g.append("g").attr("transform", `translate(0,${p.bottom})`)
    .call(d3.axisBottom(x).tickValues(xTickValues).tickSize(13).tickSizeOuter(0).tickFormat(""))
    .call(styleAxis);
  g.append("g").attr("transform", `translate(0,${p.bottom})`)
    .call(d3.axisBottom(x).tickValues(xMinorTicks).tickSize(8).tickSizeOuter(0).tickFormat(""))
    .call(a => a.select(".domain").remove())
    .call(styleAxis);

  // y tick labels
  yTickValues.forEach(v => {
    stretchedText(g, p.labelX, y(v) + 9.8, String(v), 27, "end");
  });

  // x tick labels (bottom panel only)
  if (p.xLabels) {
    xTickValues.forEach(v => {
      stretchedText(g, x(v), p.bottom + 53, String(v), 26, "middle");
    });
  }

  // panel title
  stretchedText(g, p.titleX, p.titleY, p.title, 27, "middle");

  // legend
  if (p.legend) {
    const lg = g.append("g");
    lg.append("rect")
      .attr("x", 527.5).attr("y", 288.5).attr("width", 374).attr("height", 85)
      .attr("fill", "#fff").attr("stroke", "#222").attr("stroke-width", 1.3);
    const symX = [537, 569, 602];
    lg.selectAll("path.sym").data(symX).join("path")
      .attr("class", "sym")
      .attr("d", sx => crossPath(sx, 315, 6, 6))
      .attr("stroke", "#000").attr("stroke-width", 1.1).attr("fill", "none");
    lg.selectAll("ellipse.sym").data(symX).join("ellipse")
      .attr("class", "sym")
      .attr("cx", sx => sx).attr("cy", 353).attr("rx", 3.6).attr("ry", 2.7)
      .attr("fill", BLUE);
    stretchedText(lg, 630, 325, seriesLabels[0], 27, "start");
    stretchedText(lg, 628, 363, seriesLabels[1], 27, "start");
  }
});

// shared y-axis title
svg.append("text")
  .attr("transform", `translate(50,665) scale(${X_STRETCH},1) rotate(-90)`)
  .attr("text-anchor", "middle")
  .attr("font-family", FONT)
  .attr("font-size", 31)
  .attr("fill", "#000")
  .text(yAxisTitle);

// x-axis title with subscript
const xt = svg.append("text")
  .attr("transform", `translate(482,1367) scale(${X_STRETCH},1)`)
  .attr("font-family", FONT)
  .attr("font-size", 25)
  .attr("fill", "#000");
xt.append("tspan").text("H");
xt.append("tspan").attr("font-size", 16).attr("dy", 6).text("m0");
xt.append("tspan").attr("dy", -6).text(" (m)");
</script>
</body>
</html>
